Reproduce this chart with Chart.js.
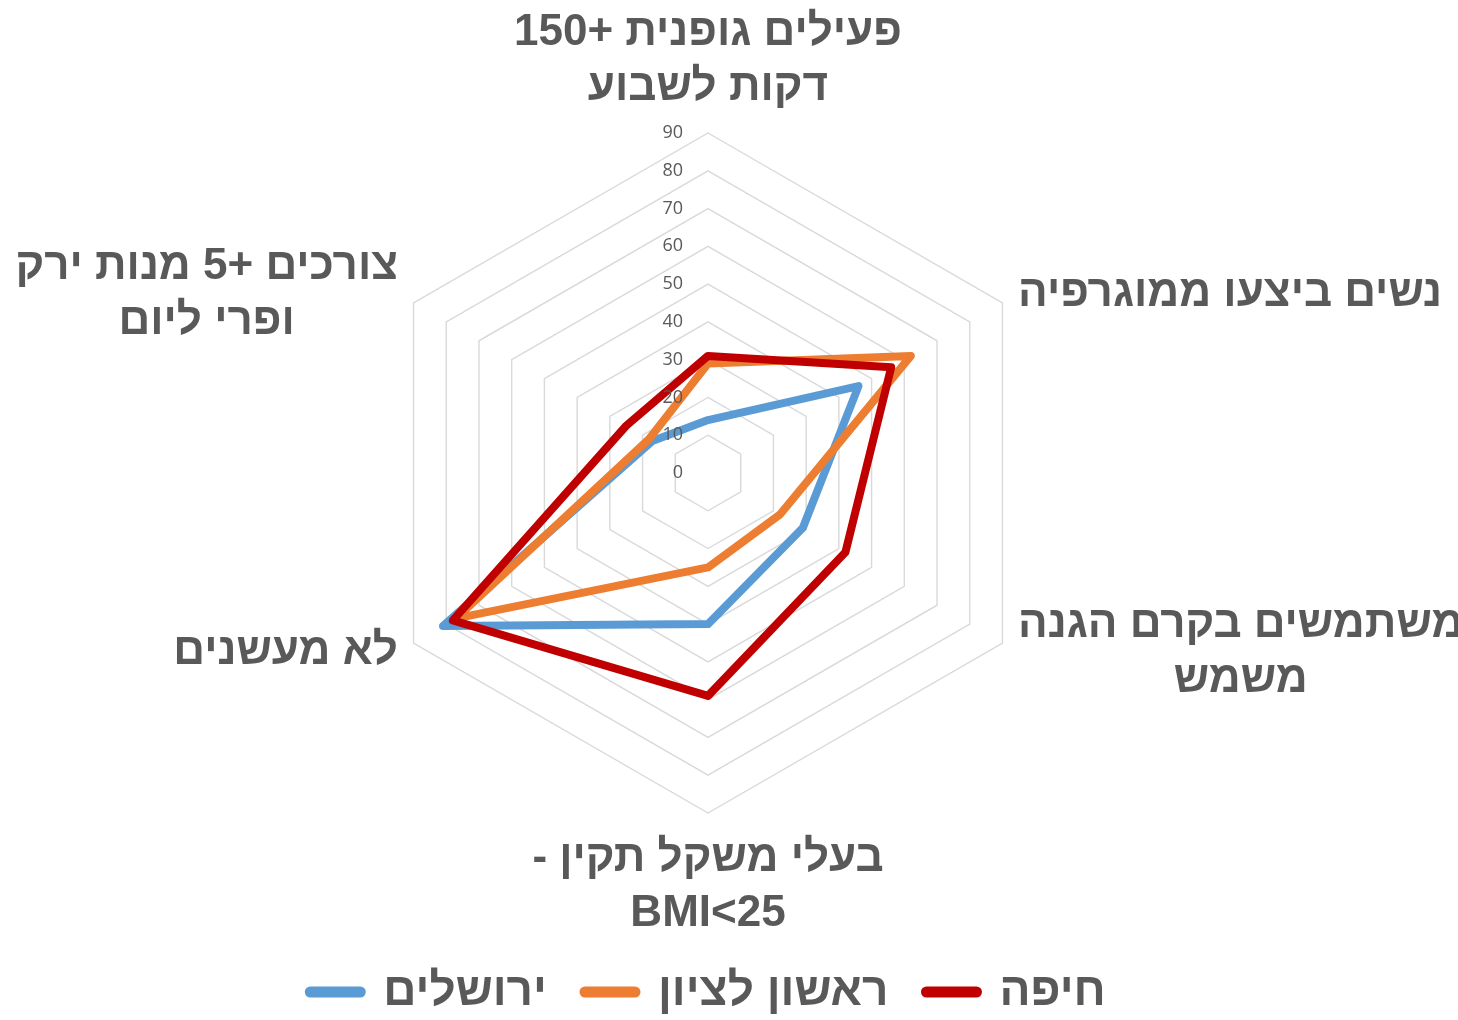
<!DOCTYPE html>
<html lang="he">
<head>
<meta charset="utf-8">
<title>מדדי אורח חיים לפי עיר</title>
<script src="https://cdn.jsdelivr.net/npm/chart.js@4.4.1/dist/chart.umd.min.js"></script>
<style>
  html, body { margin: 0; padding: 0; background: #ffffff; }
  canvas { display: block; }
</style>
</head>
<body>
<canvas id="health_radar" width="1458" height="1020"></canvas>
<script>
(function() {
  "use strict";

  // axis titles, one entry per spoke, split into lines
  var categories = [
    ["פעילים גופנית +150", "דקות לשבוע"],
    ["נשים ביצעו ממוגרפיה"],
    ["משתמשים בקרם הגנה", "משמש"],
    ["בעלי משקל תקין -", "BMI<25"],
    ["לא מעשנים"],
    ["צורכים +5 מנות ירק", "ופרי ליום"]
  ];

  var seriesNames = ["ירושלים", "ראשון לציון", "חיפה"];
  var jerusalem = [14, 46, 29, 40, 81, 17];
  var rishon = [29, 62, 22, 25, 77, 18];
  var haifa = [31, 56, 42, 59, 78, 25];

  var tickLabels = ["0", "10", "20", "30", "40", "50", "60", "70", "80", "90"];

  var textGray = "#595959";
  var boldFamily = "'Liberation Sans', 'DejaVu Sans', sans-serif";
  var titleFont = "bold 44px " + boldFamily;
  var titleLineHeight = 55;
  var titleGap = 18;

  function isHebrewLine(text) {
    var first = text.match(/[A-Za-z\u0590-\u05FF]/);
    return !!first && /[\u0590-\u05FF]/.test(first[0]);
  }

  // spoke titles: centred above/below the vertical spoke, beside the others
  var axisTitles = {
    id: "axisTitles",
    afterDraw: function(chart) {
      var scale = chart.scales.r;
      var ctx = chart.ctx;
      ctx.save();
      ctx.font = titleFont;
      ctx.fillStyle = textGray;
      ctx.textAlign = "center";
      ctx.textBaseline = "middle";
      categories.forEach(function(lines, i) {
        var pos = scale.getPointPosition(i, scale.drawingArea + titleGap);
        var deg = Math.round(scale.getIndexAngle(i) * 180 / Math.PI) % 360;
        var blockW = 0;
        lines.forEach(function(t) {
          blockW = Math.max(blockW, ctx.measureText(t).width);
        });
        var blockH = lines.length * titleLineHeight;
        var cx = pos.x;
        var top = pos.y - blockH / 2;
        if (deg === 0) {
          top = pos.y - blockH;
        } else if (deg === 180) {
          top = pos.y;
        } else if (deg < 180) {
          cx = pos.x + blockW / 2;
        } else {
          cx = pos.x - blockW / 2;
        }
        lines.forEach(function(t, k) {
          ctx.direction = isHebrewLine(t) ? "rtl" : "ltr";
          ctx.fillText(t, cx, top + titleLineHeight * (k + 0.5));
        });
      });
      ctx.restore();
    }
  };

  // value labels sit left of the top spoke, over the lines
  var valueLabels = {
    id: "valueLabels",
    afterDatasetsDraw: function(chart) {
      var scale = chart.scales.r;
      var ctx = chart.ctx;
      ctx.save();
      ctx.font = "18px 'Open Sans', 'Liberation Sans', sans-serif";
      ctx.fillStyle = textGray;
      ctx.textAlign = "right";
      ctx.textBaseline = "middle";
      scale.ticks.forEach(function(tick, i) {
        var p = scale.getPointPositionForValue(0, tick.value);
        ctx.fillText(tickLabels[i], p.x - 25, p.y);
      });
      ctx.restore();
    }
  };

  function series(label, data, color, order) {
    return {
      label: label,
      data: data,
      borderColor: color,
      backgroundColor: color,
      borderWidth: 8,
      borderJoinStyle: "round",
      borderCapStyle: "round",
      pointRadius: 0,
      pointHoverRadius: 0,
      fill: false,
      order: order
    };
  }

  var ctx = document.getElementById("health_radar").getContext("2d");

  window.healthRadar = new Chart(ctx, {
    type: "radar",
    data: {
      labels: categories,
      datasets: [
        series(seriesNames[0], jerusalem, "#5B9BD5", 3),
        series(seriesNames[1], rishon, "#ED7D31", 2),
        series(seriesNames[2], haifa, "#C00000", 1)
      ]
    },
    options: {
      responsive: false,
      animation: false,
      devicePixelRatio: 1,
      layout: {
        padding: { top: 133, left: 0, right: 42, bottom: -5 }
      },
      scales: {
        r: {
          min: 0,
          max: 90,
          ticks: { stepSize: 10, display: false },
          pointLabels: { display: false },
          angleLines: { display: false },
          grid: { color: "#d9d9d9", lineWidth: 1.4 }
        }
      },
      plugins: {
        tooltip: { enabled: false },
        legend: {
          position: "bottom",
          reverse: true,
          title: {
            display: true,
            text: "",
            padding: { top: 104, bottom: 0 },
            font: { size: 14, lineHeight: 1 }
          },
          labels: {
            usePointStyle: true,
            pointStyle: "line",
            pointStyleWidth: 50,
            padding: 38,
            color: textGray,
            font: { family: boldFamily, size: 46, weight: "bold" },
            generateLabels: function(chart) {
              var items = Chart.defaults.plugins.legend.labels.generateLabels(chart);
              items.forEach(function(item) {
                item.lineWidth = 11;
                item.lineCap = "round";
              });
              return items;
            }
          }
        }
      }
    },
    plugins: [valueLabels, axisTitles]
  });
})();
</script>
</body>
</html>
